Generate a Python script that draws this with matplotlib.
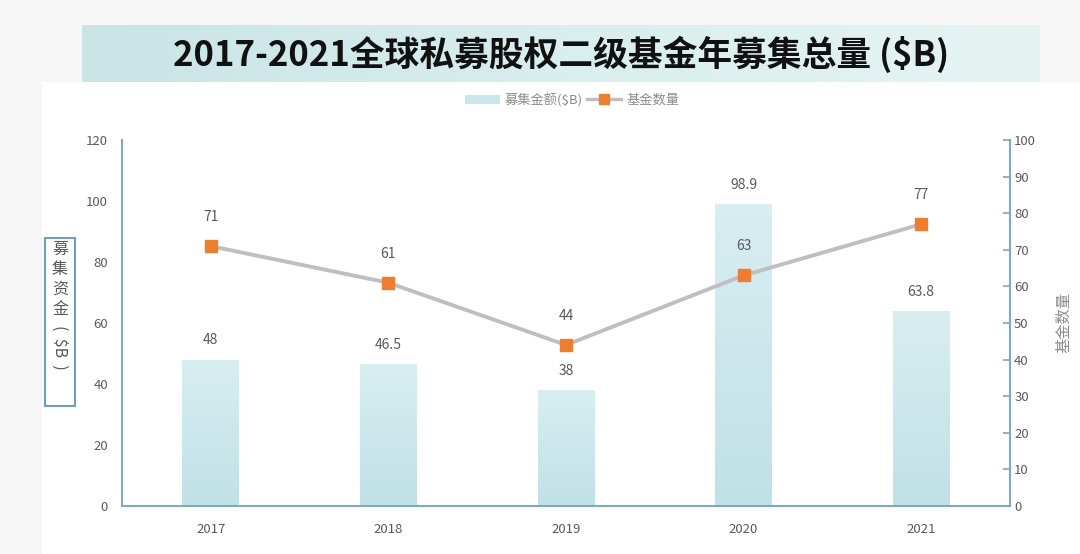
import numpy as np
import matplotlib.pyplot as plt
from matplotlib.patches import Rectangle
from matplotlib.lines import Line2D
from matplotlib.colors import LinearSegmentedColormap

plt.rcParams['font.family'] = ['Noto Sans CJK SC', 'DejaVu Sans']

# data
years = ['2017', '2018', '2019', '2020', '2021']
amount = [48, 46.5, 38, 98.9, 63.8]        # 募集金额 ($B)
amount_labels = ['48', '46.5', '38', '98.9', '63.8']
funds = [71, 61, 44, 63, 77]               # 基金数量

spine_col = '#7fa8c4'
text_col = '#595959'
line_col = '#bfbfbf'
orange = '#ed7d31'

fig = plt.figure(figsize=(10.8, 5.54), dpi=100)
fig.patch.set_facecolor('#f6f6f6')

# white chart panel
fig.patches.append(Rectangle((42 / 1080, 0), 1 - 42 / 1080, 1 - 82 / 554,
                             transform=fig.transFigure, facecolor='white',
                             edgecolor='none', zorder=-10))

# title banner with gradient
bax = fig.add_axes([82 / 1080, 1 - 82 / 554, (1040 - 82) / 1080, 57 / 554])
grad = np.linspace(0, 1, 256).reshape(1, -1)
banner_cmap = LinearSegmentedColormap.from_list('b', ['#c9e4e5', '#d9eeee', '#e6f3f3'])
bax.imshow(grad, aspect='auto', cmap=banner_cmap, extent=[0, 1, 0, 1])
bax.set_axis_off()
bax.text(0.5, 0.48, '2017-2021全球私募股权二级基金年募集总量 ($B)', ha='center', va='center',
         fontsize=25, fontweight='heavy', color='#111111')

ax = fig.add_axes([122 / 1080, 1 - 506 / 554, (1010 - 122) / 1080, (506 - 140) / 554])
ax.set_facecolor('none')
x = np.arange(len(years)) + 0.5

bars = ax.bar(x, amount, width=0.32, color='#cde8ec', zorder=2)
bar_cmap = LinearSegmentedColormap.from_list('bar', ['#c0e1e6', '#d8eef1'])
vgrad = np.linspace(0, 1, 256).reshape(-1, 1)
for b in bars:
    b.set_facecolor('none')
    x0, y0 = b.get_x(), b.get_y()
    im = ax.imshow(vgrad, aspect='auto', cmap=bar_cmap, origin='lower',
                   extent=[x0, x0 + b.get_width(), y0, y0 + b.get_height()], zorder=2)
    im.set_clip_path(b)
for xi, v, lab in zip(x, amount, amount_labels):
    ax.annotate(lab, (xi, v), xytext=(0, 9), textcoords='offset points',
                ha='center', va='bottom', fontsize=10, color=text_col)

ax.set_xlim(0, len(years))
ax.set_ylim(0, 120)
ax.set_yticks(np.arange(0, 121, 20))
ax.set_xticks(x)
ax.set_xticklabels(years)
ax.tick_params(axis='both', length=0, labelsize=9.5, labelcolor=text_col, pad=12)
ax.tick_params(axis='y', pad=10)
for s in ['top', 'right']:
    ax.spines[s].set_visible(False)
for s in ['left', 'bottom']:
    ax.spines[s].set_color(spine_col)
    ax.spines[s].set_linewidth(1.5)

ax2 = ax.twinx()
ax2.plot(x, funds, color=line_col, lw=2.8, marker='s', markersize=8.5,
         markerfacecolor=orange, markeredgecolor=orange, zorder=3)
for xi, v in zip(x, funds):
    ax2.annotate(str(v), (xi, v), xytext=(0, 16), textcoords='offset points',
                 ha='center', va='bottom', fontsize=10, color=text_col)
ax2.set_ylim(0, 100)
ax2.set_yticks(np.arange(0, 101, 10))
ax2.tick_params(axis='y', direction='in', length=5, color=spine_col, width=1.2,
                labelsize=9.5, labelcolor=text_col, pad=3)
for s in ['top', 'left', 'bottom']:
    ax2.spines[s].set_visible(False)
ax2.spines['right'].set_color(spine_col)
ax2.spines['right'].set_linewidth(1.5)
ax2.set_ylabel('基金数量', color='#8c8c8c', fontsize=11, labelpad=14)

# left boxed y label
fig.patches.append(Rectangle((45 / 1080, 1 - 406 / 554), 30 / 1080, 168 / 554,
                             transform=fig.transFigure, facecolor='white',
                             edgecolor='#6f9fc0', lw=1.5))
fig.text(60 / 1080, 1 - 241 / 554, '募\n集\n资\n金', ha='center', va='top',
         fontsize=11.5, color=text_col, linespacing=1.22)
fig.text(60 / 1080, 1 - 325 / 554, '(  $B  )', ha='center', va='top',
         fontsize=11.5, color=text_col, rotation=-90)

# legend
handles = [Rectangle((0, 0), 1, 1, facecolor='#c9e6ea', edgecolor='none'),
           Line2D([], [], color=line_col, lw=2.5, marker='s', markersize=7,
                  markerfacecolor=orange, markeredgecolor=orange)]
fig.legend(handles, ['募集金额($B)', '基金数量'], loc='center',
           bbox_to_anchor=(0.53, 1 - 100 / 554), ncol=2, frameon=False,
           fontsize=9.5, labelcolor='#8c8c8c', handlelength=2.6, columnspacing=0.3,
           handletextpad=0.4)

fig.savefig('out.png', dpi=100, facecolor=fig.get_facecolor())
